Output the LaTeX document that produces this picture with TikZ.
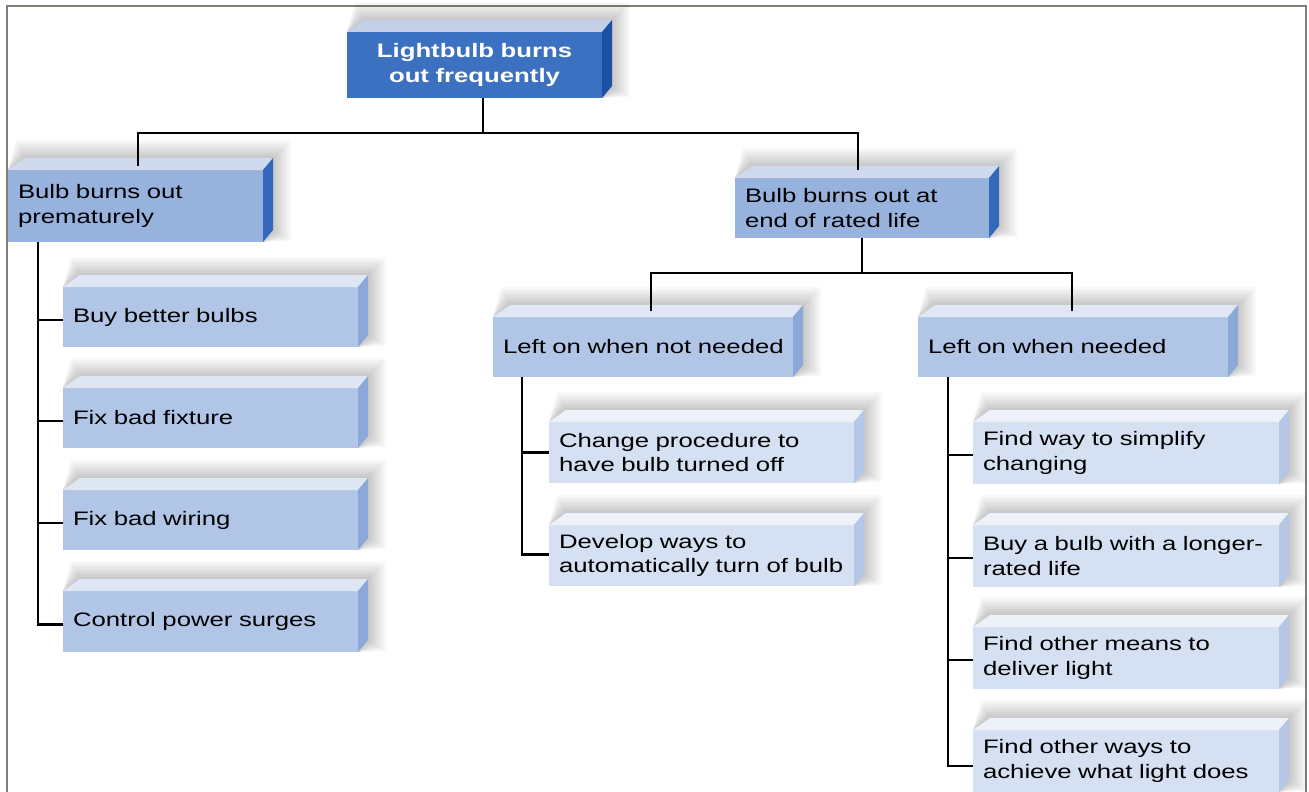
\documentclass[tikz,border=0pt]{standalone}
\usepackage{fontspec}
\setmainfont{Liberation Sans}[FakeStretch=1.32]
\usetikzlibrary{calc}

% face colours of the four box tiers
\definecolor{dkF}{RGB}{60,112,192}
\definecolor{dkT}{RGB}{196,208,232}
\definecolor{dkS}{RGB}{28,80,162}
\definecolor{mdF}{RGB}{152,178,222}
\definecolor{mdT}{RGB}{208,218,238}
\definecolor{mdS}{RGB}{52,104,186}
\definecolor{ltF}{RGB}{177,197,231}
\definecolor{ltT}{RGB}{224,231,244}
\definecolor{ltS}{RGB}{140,168,214}
\definecolor{plF}{RGB}{213,224,242}
\definecolor{plT}{RGB}{237,241,248}
\definecolor{plS}{RGB}{181,199,230}
\definecolor{frameC}{RGB}{130,126,118}

\tikzset{
  x=1pt, y=-1pt,
  slab/.style={anchor=north west, inner xsep=10pt, inner ysep=2pt, outer sep=0pt,
    align=left, text=black, font=\fontsize{19.5}{24.5}\selectfont},
  tier dark/.style={slab, fill=dkF, text=white, align=center,
    font=\fontsize{19.5}{24.5}\selectfont\bfseries},
  tier dark top/.style={fill=dkT}, tier dark side/.style={fill=dkS},
  tier mid/.style={slab, fill=mdF},
  tier mid top/.style={fill=mdT}, tier mid side/.style={fill=mdS},
  tier light/.style={slab, fill=ltF},
  tier light top/.style={fill=ltT}, tier light side/.style={fill=ltS},
  tier pale/.style={slab, fill=plF},
  tier pale top/.style={fill=plT}, tier pale side/.style={fill=plS},
  conn/.style={line width=2.8pt, black},
  frame/.style={line width=2.2pt, frameC},
}

% a box with a lit top face, a shaded right face and a soft shadow
% #1 name, #2 x, #3 y, #4 width, #5 height, #6 tier, #7 text
\newcommand\slabbox[7]{%
  \foreach \s in {2,4,...,18}{
    \fill[black, opacity=0.025]
      (#2+17-0.5*\s,#3-12-\s) -- (#2+#4+10+\s,#3-12-\s)
      -- (#2+#4+10+\s,#3+#5-12+0.6*\s) -- (#2+#4,#3+#5) -- (#2,#3) -- cycle;
  }
  \pgfmathsetmacro\slabtw{#4-20}
  \node[tier #6, minimum width=#4pt, minimum height=#5pt, text width=\slabtw pt]
    (#1) at (#2,#3) {#7};
  \fill[tier #6 top] (#1.north west) -- ++(17,-12)
    -- ($(#1.north east)+(10,-12)$) -- (#1.north east) -- cycle;
  \fill[tier #6 side] (#1.north east) -- ++(10,-12)
    -- ($(#1.south east)+(10,-12)$) -- (#1.south east) -- cycle;
}

\begin{document}
\begin{tikzpicture}
\clip (0,0) rectangle (1309,792);
\fill[white] (0,0) rectangle (1309,792);

% page frame
\draw[frame] (7,800) -- (7,6) -- (1306,6) -- (1306,800);

% root and first level
\slabbox{root}{347}{32}{255}{66}{dark}{Lightbulb burns\\out frequently}
\slabbox{prem}{8}{170}{255}{72}{mid}{Bulb burns out\\prematurely}
\slabbox{endl}{735}{178}{254}{60}{mid}{Bulb burns out at\\end of rated life}

% second level
\slabbox{offn}{493}{317}{300}{60}{light}{\mbox{Left on when not needed}}
\slabbox{onn}{918}{317}{310}{60}{light}{Left on when needed}

% remedies for premature burn-out
\slabbox{l1}{63}{287}{295}{60}{light}{Buy better bulbs}
\slabbox{l2}{63}{388}{295}{60}{light}{Fix bad fixture}
\slabbox{l3}{63}{490}{295}{60}{light}{Fix bad wiring}
\slabbox{l4}{63}{591}{295}{61}{light}{Control power surges}

% remedies when left on needlessly
\slabbox{m1}{549}{422}{305}{61}{pale}{Change procedure to\\have bulb turned off}
\slabbox{m2}{549}{525}{305}{61}{pale}{Develop ways to\\\mbox{automatically turn of bulb}}

% remedies when light is needed
\slabbox{r1}{973}{422}{306}{62}{pale}{Find way to simplify\\changing}
\slabbox{r2}{973}{525}{306}{62}{pale}{\mbox{Buy a bulb with a longer-}\\rated life}
\slabbox{r3}{973}{627}{306}{62}{pale}{Find other means to\\deliver light}
\slabbox{r4}{973}{730}{306}{62}{pale}{Find other ways to\\\mbox{achieve what light does}}

% tree connectors
\coordinate (j1) at (483,133);
\coordinate (j2) at (862,273);
\coordinate (tl) at (38,0);
\coordinate (tm) at (522,0);
\coordinate (tr) at (948,0);

\draw[conn] (j1 |- root.south) -- (j1);
\draw[conn] ($(prem.north)+(2.5,-4)$) |- (j1) -| ($(endl.north)+(-4,-8)$);
\draw[conn] (j2 |- endl.south) -- (j2);
\draw[conn] ($(offn.north)+(8,-6)$) |- (j2) -| ($(onn.north)+(-1,-6)$);

\draw[conn] (tl |- prem.south) |- ($(l4.west)+(0,3)$);
\foreach \n in {l1,l2,l3}{
  \draw[conn] (tl |- \n.west) ++(0,3) -- ($(\n.west)+(0,3)$);
}
\draw[conn] (tm |- offn.south) |- ($(m2.west)+(0,-1)$);
\draw[conn] (tm |- m1.west) -- (m1.west);
\draw[conn] (tr |- onn.south) |- ($(r4.west)+(0,5)$);
\foreach \n in {r1,r2,r3}{
  \draw[conn] (tr |- \n.west) ++(0,2) -- ($(\n.west)+(0,2)$);
}
\end{tikzpicture}
\end{document}
